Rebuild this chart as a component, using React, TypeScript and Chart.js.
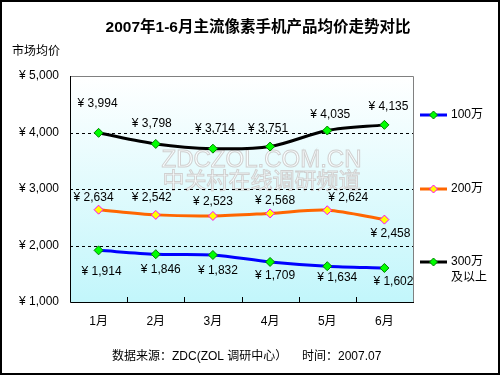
import React, { useEffect, useRef } from "react";
import { Chart, registerables } from "chart.js";

Chart.register(...registerables);

const categories = ["1月", "2月", "3月", "4月", "5月", "6月"];
const seriesNames = ["100万", "200万", "300万"];
const s100 = [1914, 1846, 1832, 1709, 1634, 1602];
const s200 = [2634, 2542, 2523, 2568, 2624, 2458];
const s300 = [3994, 3798, 3714, 3751, 4035, 4135];
const yTicks = [1000, 2000, 3000, 4000, 5000];

const titleText = "2007年1-6月主流像素手机产品均价走势对比";
const yTitle = "市场均价";
const sourceText = "数据来源：ZDC(ZOL 调研中心）";
const timeText = "时间：2007.07";

// label offsets (style), per dataset
const labelOffsets = [
  [[3, 21], [5, 15], [5, 16], [5, 14], [10, 12], [9, 14]],
  [[-5, -12], [-4, -17], [0, -14], [5, -13], [21, -13], [6, 14]],
  [[-1, -29], [-4, -20], [2, -20], [-2, -18], [3, -16], [4, -18]],
];

const FONT = '"Liberation Sans", Arial, "Noto Sans CJK SC", sans-serif';
const fmt = (v: number) => "¥ " + v.toLocaleString("en-US");

export default function App() {
  const ref = useRef<HTMLCanvasElement>(null);
  useEffect(() => {
    const canvas = ref.current!;
    const decor = {
      id: "decor",
      beforeDraw(chart: any) {
        const { ctx, chartArea: a } = chart;
        ctx.save();
        ctx.fillStyle = "#ffffff";
        ctx.fillRect(0, 0, chart.width, chart.height);
        const g = ctx.createLinearGradient(0, a.top, 0, a.bottom);
        g.addColorStop(0, "#ffffff");
        g.addColorStop(1, "#c2f6fb");
        ctx.fillStyle = g;
        ctx.fillRect(a.left, a.top, a.right - a.left, a.bottom - a.top);
        // watermark
        const cx = (a.left + a.right) / 2 + 20;
        ctx.textAlign = "center";
        ctx.textBaseline = "middle";
        ctx.font = "24px " + FONT;
        ctx.lineWidth = 1;
        ctx.strokeStyle = "#d0d0d0";
        ctx.fillStyle = "rgba(255,255,255,0.75)";
        ctx.fillText("ZDCZOL.COM.CN", cx, 160);
        ctx.strokeText("ZDCZOL.COM.CN", cx, 160);
        ctx.font = "22px " + FONT;
        ctx.fillText("中关村在线调研频道", cx, 182);
        ctx.strokeText("中关村在线调研频道", cx, 182);
        // grid
        const ys = chart.scales.y;
        ctx.strokeStyle = "#000000";
        ctx.lineWidth = 1;
        ctx.setLineDash([3, 3]);
        [2000, 3000, 4000].forEach((v) => {
          const y = Math.round(ys.getPixelForValue(v)) + 0.5;
          ctx.beginPath();
          ctx.moveTo(a.left, y);
          ctx.lineTo(a.right, y);
          ctx.stroke();
        });
        ctx.setLineDash([]);
        // top/right border gray
        ctx.strokeStyle = "#808080";
        ctx.beginPath();
        ctx.moveTo(Math.round(a.left), Math.round(a.top) + 0.5);
        ctx.lineTo(Math.round(a.right) + 0.5, Math.round(a.top) + 0.5);
        ctx.lineTo(Math.round(a.right) + 0.5, Math.round(a.bottom));
        ctx.stroke();
        // axes black
        ctx.strokeStyle = "#000000";
        ctx.beginPath();
        ctx.moveTo(Math.round(a.left) + 0.5, Math.round(a.top));
        ctx.lineTo(Math.round(a.left) + 0.5, Math.round(a.bottom) + 0.5);
        ctx.lineTo(Math.round(a.right) + 1, Math.round(a.bottom) + 0.5);
        ctx.stroke();
        // x tick marks between categories
        const xs = chart.scales.x;
        for (let i = 1; i < categories.length; i++) {
          const x = Math.round((xs.getPixelForTick(i - 1) + xs.getPixelForTick(i)) / 2) + 0.5;
          ctx.beginPath();
          ctx.moveTo(x, a.bottom);
          ctx.lineTo(x, a.bottom - 5);
          ctx.stroke();
        }
        ctx.restore();
      },
      afterDraw(chart: any) {
        const { ctx } = chart;
        ctx.save();
        // data labels
        ctx.fillStyle = "#000000";
        ctx.font = "12px " + FONT;
        ctx.textAlign = "center";
        ctx.textBaseline = "middle";
        chart.data.datasets.forEach((ds: any, di: number) => {
          const meta = chart.getDatasetMeta(di);
          meta.data.forEach((el: any, i: number) => {
            const [dx, dy] = labelOffsets[di][i];
            ctx.fillText(fmt(ds.data[i]), el.x + dx, el.y + dy);
          });
        });
        // title
        ctx.font = "bold 15.5px " + FONT;
        ctx.fillText(titleText, 258, 28);
        ctx.font = "12px " + FONT;
        ctx.textAlign = "left";
        ctx.fillText(yTitle, 12, 52);
        ctx.fillText(sourceText, 112, 357);
        ctx.fillText(timeText, 302, 357);
        // legend
        const legendY = [115, 189, 262];
        chart.data.datasets.forEach((ds: any, di: number) => {
          const y = legendY[di];
          ctx.strokeStyle = ds.borderColor;
          ctx.lineWidth = 3;
          ctx.beginPath();
          ctx.moveTo(420, y);
          ctx.lineTo(447, y);
          ctx.stroke();
          ctx.fillStyle = ds.pointBackgroundColor;
          ctx.strokeStyle = ds.pointBorderColor;
          ctx.lineWidth = 1;
          ctx.beginPath();
          ctx.moveTo(433.5, y - 4);
          ctx.lineTo(437.5, y);
          ctx.lineTo(433.5, y + 4);
          ctx.lineTo(429.5, y);
          ctx.closePath();
          ctx.fill();
          ctx.stroke();
          ctx.fillStyle = "#000000";
          ctx.fillText(seriesNames[di], 451, y);
        });
        ctx.fillText("及以上", 451, 278);
        // outer border
        ctx.strokeStyle = "#000000";
        ctx.lineWidth = 2;
        ctx.strokeRect(1, 1, chart.width - 2, chart.height - 2);
        ctx.restore();
      },
    };

    const mk = (data: number[], color: string, fill: string, border: string) => ({
      data,
      borderColor: color,
      borderWidth: 3,
      tension: 0.3,
      pointStyle: "rectRot",
      pointRadius: 4.5,
      pointBackgroundColor: fill,
      pointBorderColor: border,
      pointBorderWidth: 1,
      fill: false,
    });

    const chart = new Chart(canvas, {
      type: "line",
      data: {
        labels: categories,
        datasets: [
          mk(s100, "#0000ff", "#00ff00", "#008000"),
          mk(s200, "#ff6600", "#ffff00", "#ff00ff"),
          mk(s300, "#000000", "#00ff00", "#008000"),
        ] as any,
      },
      options: {
        responsive: false,
        animation: false,
        layout: { padding: { left: 0, right: 87, top: 76, bottom: 33 } },
        plugins: { legend: { display: false }, tooltip: { enabled: false }, title: { display: false } },
        scales: {
          x: {
            offset: true,
            grid: { display: false, drawTicks: false },
            border: { display: false },
            ticks: { color: "#000", font: { size: 12, family: FONT }, padding: 12, maxRotation: 0 },
            afterFit: (s: any) => { s.height = 40; },
          },
          y: {
            min: 1000,
            max: 5000,
            afterBuildTicks: (s: any) => { s.ticks = yTicks.map((v) => ({ value: v })); },
            grid: { display: false, drawTicks: false },
            border: { display: false },
            ticks: { color: "#000", font: { size: 12, family: FONT }, padding: 11, callback: (v: any) => fmt(Number(v)) },
            afterFit: (s: any) => { s.width = 70; },
          },
        },
      } as any,
      plugins: [decor],
    });
    return () => chart.destroy();
  }, []);
  return (
    <div style={{ position: "absolute", left: 0, top: 0, width: 500, height: 375 }}>
      <canvas ref={ref} width={500} height={375} style={{ display: "block" }} />
    </div>
  );
}
